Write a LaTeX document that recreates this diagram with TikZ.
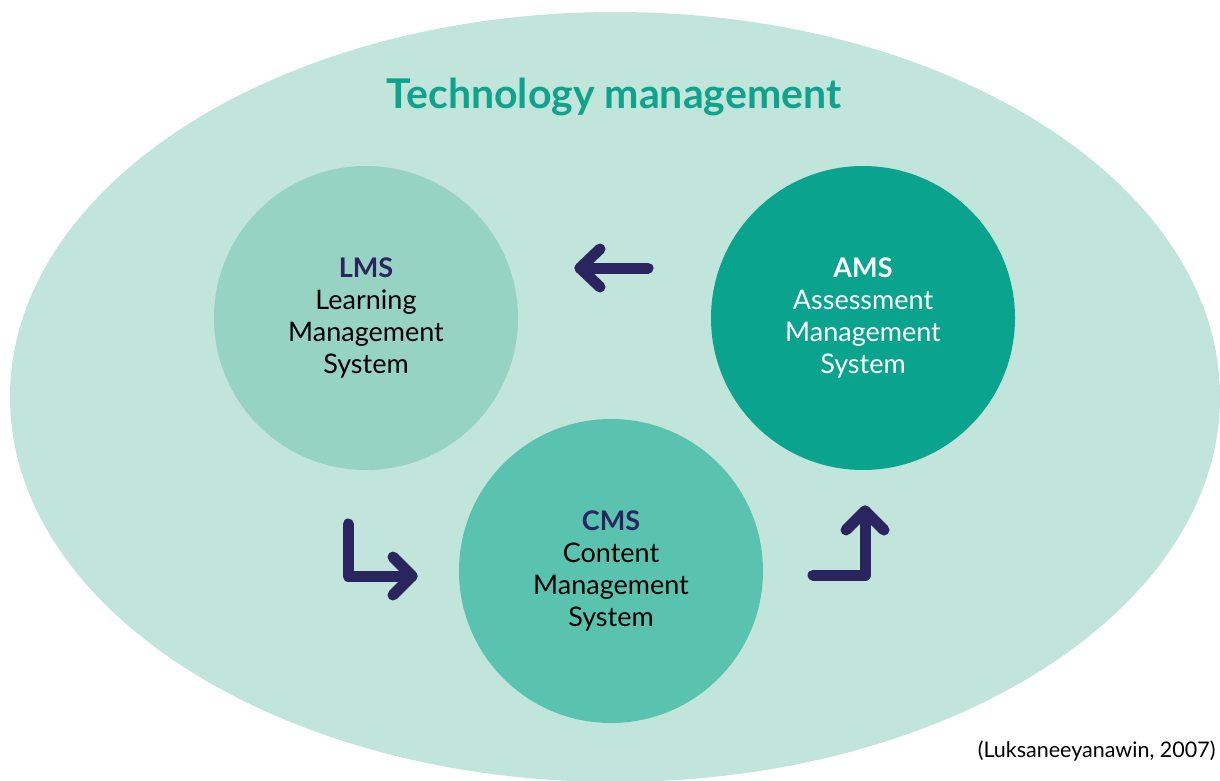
\documentclass[tikz,border=0pt]{standalone}
\usepackage{fontspec}
\usetikzlibrary{calc}
\setmainfont{Lato}
\definecolor{bgellipse}{HTML}{C2E5DB}
\definecolor{lmsfill}{HTML}{96D3C2}
\definecolor{cmsfill}{HTML}{5AC3AF}
\definecolor{amsfill}{HTML}{0AA48E}
\definecolor{titleteal}{HTML}{0FA38C}
\definecolor{navy}{HTML}{2A245F}
\begin{document}
\begin{tikzpicture}[x=1pt,y=-1pt,
  sysbox/.style={circle,minimum size=304pt,inner sep=0pt,align=center,
    font=\fontsize{27}{32}\selectfont},
  flow/.style={draw=navy,line width=11pt,line cap=round,line join=round}]
\useasboundingbox (0,0) rectangle (1220,781);
\clip (0,0) rectangle (1220,781);
% outer domain
\fill[bgellipse] (615,397) ellipse [x radius=605, y radius=385];
\node (title) at (614,97) {\fontsize{41}{46}\selectfont\bfseries\color{titleteal}Technology management};
% the three systems
\node[sysbox,fill=lmsfill] (lms) at (366,318)
  {{\bfseries\color{navy}LMS}\\Learning\\Management\\System};
\node[sysbox,fill=amsfill,text=white] (ams) at (863,318)
  {{\bfseries AMS}\\Assessment\\Management\\System};
\node[sysbox,fill=cmsfill] (cms) at (611,571)
  {{\bfseries\color{navy}CMS}\\Content\\Management\\System};
% flow arrows
\coordinate (a1s) at (648,268);
\coordinate (a1e) at (580,268);
\draw[flow] (a1s) -- (a1e);
\draw[flow] ($(a1e)+(20,-19)$) -- (a1e) -- ($(a1e)+(20,19)$);
\coordinate (a2s) at (348,524);
\coordinate (a2c) at (348,576);
\coordinate (a2e) at (412,576);
\draw[flow] (a2s) -- (a2c) -- (a2e);
\draw[flow] ($(a2e)+(-19,-19)$) -- (a2e) -- ($(a2e)+(-19,19)$);
\coordinate (a3s) at (813,575);
\coordinate (a3c) at (865,575);
\coordinate (a3e) at (865,511);
\draw[flow] (a3s) -- (a3c) -- (a3e);
\draw[flow] ($(a3e)+(-19,19)$) -- (a3e) -- ($(a3e)+(19,19)$);
\node[anchor=east,font=\fontsize{21.5}{24}\selectfont] (cite) at (1219,751) {(Luksaneeyanawin, 2007)};
\end{tikzpicture}
\end{document}
